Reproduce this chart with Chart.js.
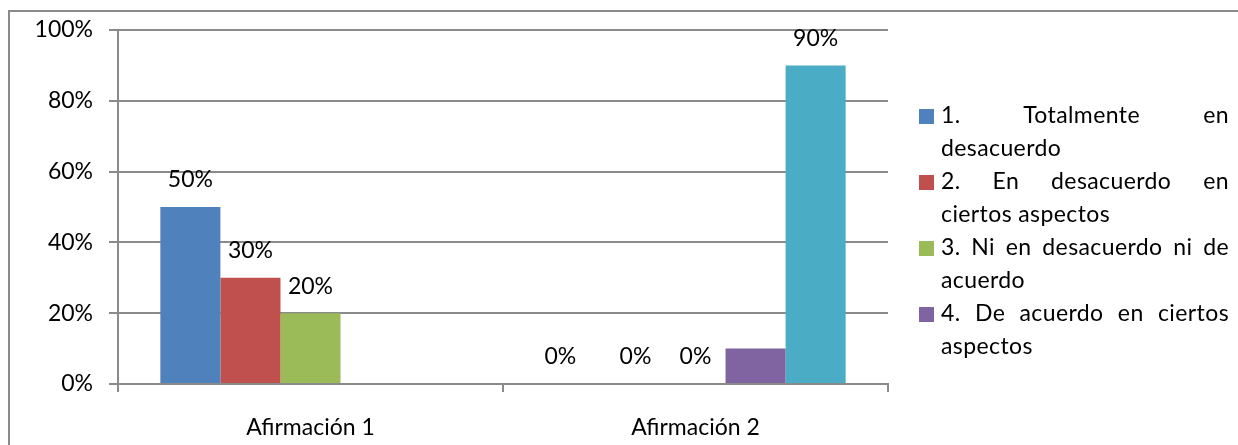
<!DOCTYPE html>
<html>
<head>
<meta charset="utf-8">
<script src="https://cdn.jsdelivr.net/npm/chart.js@4.4.0/dist/chart.umd.min.js"></script>
<style>
  html, body { margin: 0; padding: 0; background: #fff; }
  #wrap { position: relative; width: 1238px; height: 445px; overflow: hidden; }
  #wrap canvas { position: absolute; left: 0; top: 0; }
  #legend { position: absolute; left: 919px; top: 98px; width: 310px; font-family: Lato, sans-serif; font-size: 23px; letter-spacing: 0.4px; color: #000; }
  .item { position: relative; padding-left: 22px; text-align: justify; text-align-last: left; line-height: 33px; }
  .sw { position: absolute; left: 0; top: 11px; width: 15px; height: 15px; }
</style>
</head>
<body>
<div id="wrap">
  <canvas id="chart" width="1238" height="445"></canvas>
  <div id="legend"></div>
</div>
<script>
// Survey answers, percentage of respondents per statement
const categories = ['Afirmación 1', 'Afirmación 2'];
const seriesNames = [
  '1. Totalmente en desacuerdo',
  '2. En desacuerdo en ciertos aspectos',
  '3. Ni en desacuerdo ni de acuerdo',
  '4. De acuerdo en ciertos aspectos',
  '5. Totalmente de acuerdo'
];
const totalmenteDesacuerdo = [50, 0];
const desacuerdoAspectos = [30, 0];
const niDesacuerdoNiAcuerdo = [20, 0];
const acuerdoAspectos = [null, 10];
const totalmenteAcuerdo = [null, 90];
const yTicks = [0, 20, 40, 60, 80, 100];

// Which points carry a value label
const labelled = [
  [true, true],
  [true, true],
  [true, true],
  [false, false],
  [false, true]
];
// Legend shows the first four series
const legendCount = 4;

const seriesValues = [totalmenteDesacuerdo, desacuerdoAspectos, niDesacuerdoNiAcuerdo, acuerdoAspectos, totalmenteAcuerdo];
const seriesColors = ['#4F81BD', '#C0504D', '#9BBB59', '#8064A2', '#4BACC6'];

const FONT = { family: 'Lato, sans-serif', size: 23 };
const GRID = '#8a8a8a';

// Outer frame of the chart object
const framePlugin = {
  id: 'frame',
  beforeDraw(chart) {
    const ctx = chart.ctx;
    ctx.save();
    ctx.strokeStyle = GRID;
    ctx.lineWidth = 2;
    ctx.strokeRect(9, 11, chart.width + 20, chart.height + 20);
    ctx.restore();
  }
};

// Percentage labels above each bar
const valueLabels = {
  id: 'valueLabels',
  afterDatasetsDraw(chart) {
    const ctx = chart.ctx;
    ctx.save();
    ctx.font = `${FONT.size}px ${FONT.family}`;
    ctx.fillStyle = '#000';
    ctx.textAlign = 'center';
    ctx.textBaseline = 'middle';
    chart.data.datasets.forEach((ds, i) => {
      chart.getDatasetMeta(i).data.forEach((bar, j) => {
        const v = ds.data[j];
        if (v === null || !labelled[i][j]) return;
        const nudge = (i === 0 && j === 1) ? -15 : 0;
        ctx.fillText(v + '%', bar.x + nudge, bar.y - 27);
      });
    });
    ctx.restore();
  }
};

new Chart(document.getElementById('chart'), {
  type: 'bar',
  data: {
    labels: categories,
    datasets: seriesNames.map((name, i) => ({
      label: name,
      data: seriesValues[i],
      backgroundColor: seriesColors[i],
      borderWidth: 0,
      categoryPercentage: 0.78,
      barPercentage: 1.0
    }))
  },
  options: {
    responsive: false,
    animation: false,
    devicePixelRatio: 1,
    layout: { padding: { left: 0, top: 30, right: 350, bottom: 0 } },
    plugins: { legend: { display: false }, tooltip: { enabled: false } },
    scales: {
      x: {
        offset: true,
        grid: { offset: true, drawOnChartArea: false, drawTicks: true, tickLength: 8, color: GRID, lineWidth: 2 },
        border: { display: true, color: GRID, width: 2 },
        ticks: { font: FONT, color: '#000', padding: 22, maxRotation: 0 },
        afterFit(scale) { scale.height = 61; }
      },
      y: {
        min: 0,
        max: 100,
        afterBuildTicks(scale) { scale.ticks = yTicks.map(v => ({ value: v })); },
        ticks: { font: FONT, color: '#000', padding: 16, callback: v => v + '%' },
        grid: { color: GRID, lineWidth: 2, tickLength: 9 },
        border: { display: true, color: GRID, width: 2 },
        afterFit(scale) { scale.width = 118; }
      }
    }
  },
  plugins: [framePlugin, valueLabels]
});

// Legend
const legend = document.getElementById('legend');
seriesNames.slice(0, legendCount).forEach((name, i) => {
  const item = document.createElement('div');
  item.className = 'item';
  const sw = document.createElement('span');
  sw.className = 'sw';
  sw.style.background = seriesColors[i];
  item.appendChild(sw);
  item.appendChild(document.createTextNode(name));
  legend.appendChild(item);
});
</script>
</body>
</html>
